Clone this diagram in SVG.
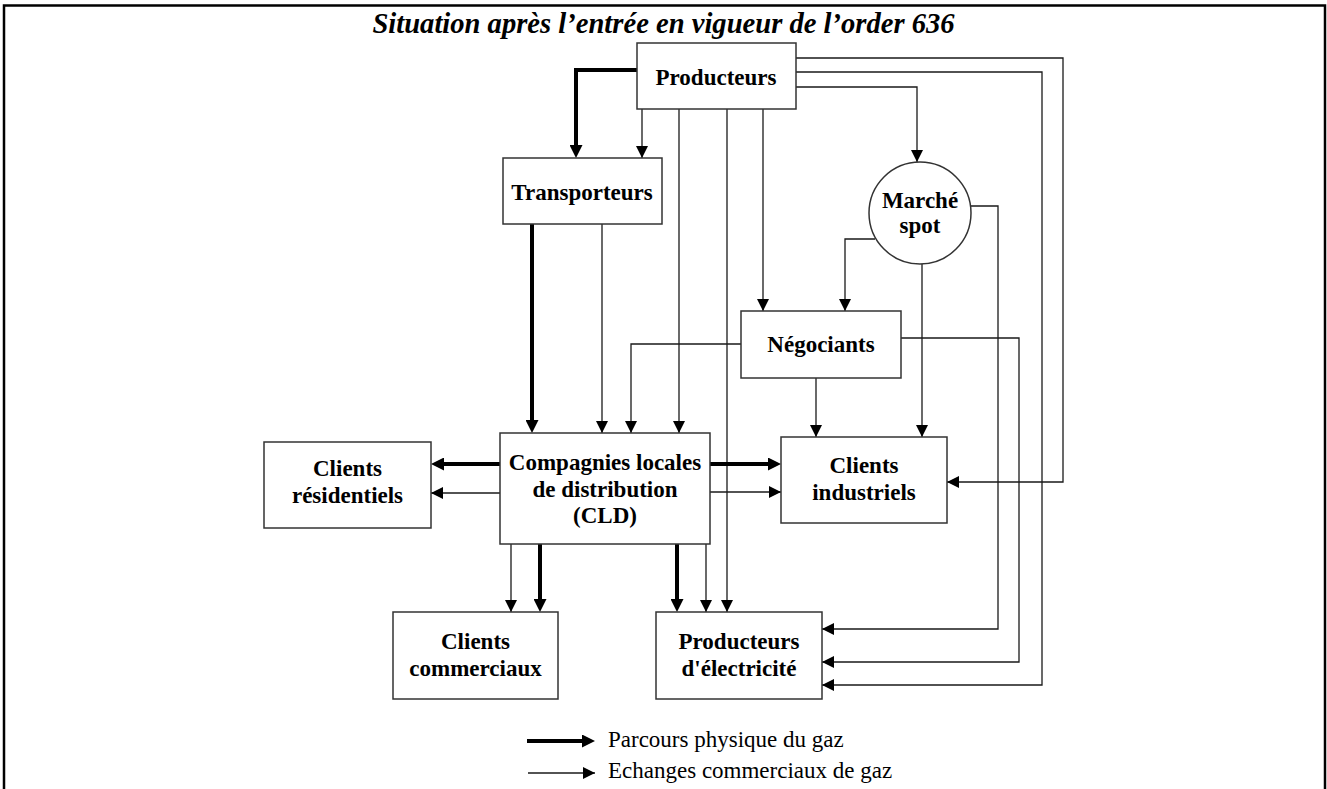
<svg xmlns="http://www.w3.org/2000/svg" width="1327" height="789" viewBox="0 0 1327 789">
<style>
.box{fill:#fff;stroke:#333;stroke-width:1.5}
.lbl{font-family:"Liberation Serif","Times New Roman",serif;font-weight:bold;font-size:23px;fill:#000;text-anchor:middle}
.leg{font-family:"Liberation Serif","Times New Roman",serif;font-size:23px;fill:#000}
.t{fill:none;stroke:#1a1a1a;stroke-width:1.3;marker-end:url(#ah)}
.k{fill:none;stroke:#000;stroke-width:4;marker-end:url(#ahk)}
</style>
<defs>
<marker id="ah" markerUnits="userSpaceOnUse" markerWidth="12" markerHeight="12" refX="12" refY="6" orient="auto" viewBox="0 0 12 12"><path d="M0,0 L12,6 L0,12 z" fill="#000"/></marker>
<marker id="ahk" markerUnits="userSpaceOnUse" markerWidth="13" markerHeight="13" refX="6" refY="6.5" orient="auto" viewBox="0 0 13 13"><path d="M0,0 L13,6.5 L0,13 z" fill="#000"/></marker>
</defs>
<rect x="0" y="0" width="1327" height="789" fill="#fff"/>
<rect x="4" y="5.5" width="1321" height="800" fill="none" stroke="#000" stroke-width="2.5"/>
<text x="663.5" y="33" font-family="'Liberation Serif','Times New Roman',serif" font-weight="bold" font-style="italic" font-size="28.6" text-anchor="middle">Situation après l’entrée en vigueur de l’order 636</text>

<g id="connectors">
<path class="k" d="M637,70 H576 V151"/>
<path class="t" d="M642,109 V158"/>
<path class="t" d="M679,109 V433"/>
<path class="t" d="M727,109 V612"/>
<path class="t" d="M763,109 V311"/>
<path class="t" d="M796,58 H1063 V482 H947"/>
<path class="t" d="M796,72 H1042 V685 H822"/>
<path class="t" d="M796,87 H917 V162"/>
<path class="k" d="M532,224 V426"/>
<path class="t" d="M602,224 V433"/>
<path class="t" d="M741,344 H631 V433"/>
<path class="t" d="M875,239 H845 V311"/>
<path class="t" d="M816,378 V437"/>
<path class="t" d="M922,264 V437"/>
<path class="t" d="M901,338 H1019 V662 H822"/>
<path class="t" d="M971,206 H998 V629 H822"/>
<path class="k" d="M500,464 H438"/>
<path class="t" d="M500,493 H431"/>
<path class="k" d="M710,464 H774"/>
<path class="t" d="M710,492 H781"/>
<path class="t" d="M511,544 V612"/>
<path class="k" d="M540,544 V605"/>
<path class="k" d="M677,544 V605"/>
<path class="t" d="M706,544 V612"/>
</g>

<g id="producteurs"><rect class="box" x="637" y="43" width="159" height="66"/><text class="lbl" x="716" y="85">Producteurs</text></g>
<g id="transporteurs"><rect class="box" x="503" y="158" width="159" height="66"/><text class="lbl" x="582" y="200">Transporteurs</text></g>
<g id="marche-spot"><circle cx="920" cy="213" r="51" fill="#fff" stroke="#333" stroke-width="1.5"/><text class="lbl" x="920" y="208">Marché</text><text class="lbl" x="920" y="233">spot</text></g>
<g id="negociants"><rect class="box" x="741" y="311" width="160" height="67"/><text class="lbl" x="821" y="352">Négociants</text></g>
<g id="clients-industriels"><rect class="box" x="781" y="437" width="166" height="86"/><text class="lbl" x="864" y="473">Clients</text><text class="lbl" x="864" y="500">industriels</text></g>
<g id="cld"><rect class="box" x="500" y="433" width="210" height="111"/><text class="lbl" x="605" y="470">Compagnies locales</text><text class="lbl" x="605" y="497">de distribution</text><text class="lbl" x="605" y="523">(CLD)</text></g>
<g id="clients-residentiels"><rect class="box" x="264" y="442" width="167" height="86"/><text class="lbl" x="347.5" y="476">Clients</text><text class="lbl" x="347.5" y="503">résidentiels</text></g>
<g id="clients-commerciaux"><rect class="box" x="393" y="612" width="165" height="87"/><text class="lbl" x="475.5" y="649">Clients</text><text class="lbl" x="475.5" y="676">commerciaux</text></g>
<g id="producteurs-electricite"><rect class="box" x="656" y="612" width="166" height="87"/><text class="lbl" x="739" y="649">Producteurs</text><text class="lbl" x="739" y="676">d'électricité</text></g>

<g id="legend">
<path class="k" d="M527,741 H588"/>
<text class="leg" x="608" y="747">Parcours physique du gaz</text>
<path class="t" d="M528,773 H595"/>
<text class="leg" x="608" y="778">Echanges commerciaux de gaz</text>
</g>
</svg>
